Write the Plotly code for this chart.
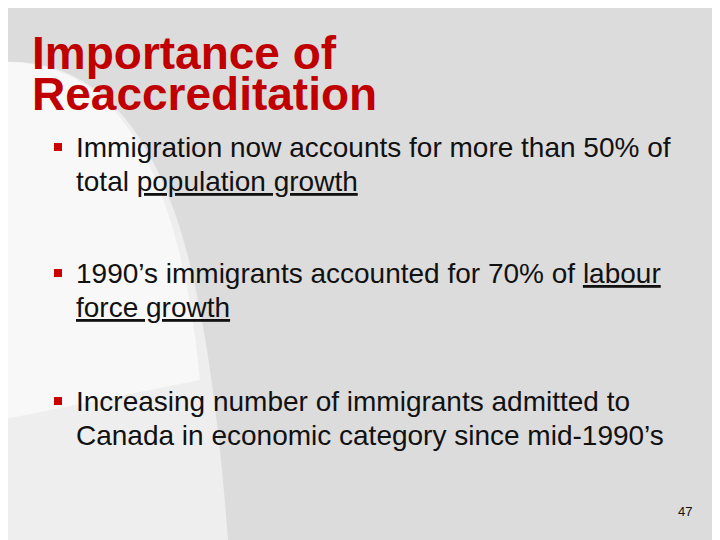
import plotly.graph_objects as go

title_lines = ["Importance of", "Reaccreditation"]
bullet_lines = [
    ["Immigration now accounts for more than 50% of",
     "total <span style='text-decoration:underline'>population growth</span>"],
    ["1990’s immigrants accounted for 70% of <span style='text-decoration:underline'>labour</span>",
     "<span style='text-decoration:underline'>force growth</span>"],
    ["Increasing number of immigrants admitted to",
     "Canada in economic category since mid-1990’s"],
]
bullet_y = [147, 273, 401]
page_number = "47"

fig = go.Figure()
shapes = [
    dict(type="path", path="M0,62 Q115,55 170,200 Q210,300 228,540 L0,540 Z",
         fillcolor="rgba(255,255,255,0.5)", line_width=0, layer="below"),
    dict(type="path", path="M0,62 Q110,58 160,190 Q190,270 200,380 L0,420 Z",
         fillcolor="rgba(255,255,255,0.6)", line_width=0, layer="below"),
]
ann = []
ann.append(dict(x=30, y=53, text="<b>" + title_lines[0] + "</b>"))
ann.append(dict(x=30, y=94, text="<b>" + title_lines[1] + "</b>"))
for a in ann:
    a.update(xanchor="left", yanchor="middle", showarrow=False,
             font=dict(family="Liberation Sans", size=46, color="#c00000"))
for y, lines in zip(bullet_y, bullet_lines):
    shapes.append(dict(type="rect", x0=54, x1=62, y0=y-4, y1=y+4,
                       fillcolor="#cc0000", line_width=0))
    for i, t in enumerate(lines):
        ann.append(dict(x=74, y=y + i*34, text=t, xanchor="left", yanchor="middle",
                        showarrow=False,
                        font=dict(family="Liberation Sans", size=28, color="#111")))
ann.append(dict(x=694, y=511, text=page_number, xanchor="right", yanchor="middle",
                showarrow=False, font=dict(family="Liberation Sans", size=13, color="#111")))

fig.update_layout(width=712, height=532, margin=dict(l=0, r=0, t=0, b=0),
                  paper_bgcolor="#dcdcdc", plot_bgcolor="rgba(0,0,0,0)",
                  xaxis=dict(range=[8, 720], visible=False, fixedrange=True),
                  yaxis=dict(range=[540, 8], visible=False, fixedrange=True),
                  shapes=shapes, annotations=ann, showlegend=False)
fig.write_html("out.html")
